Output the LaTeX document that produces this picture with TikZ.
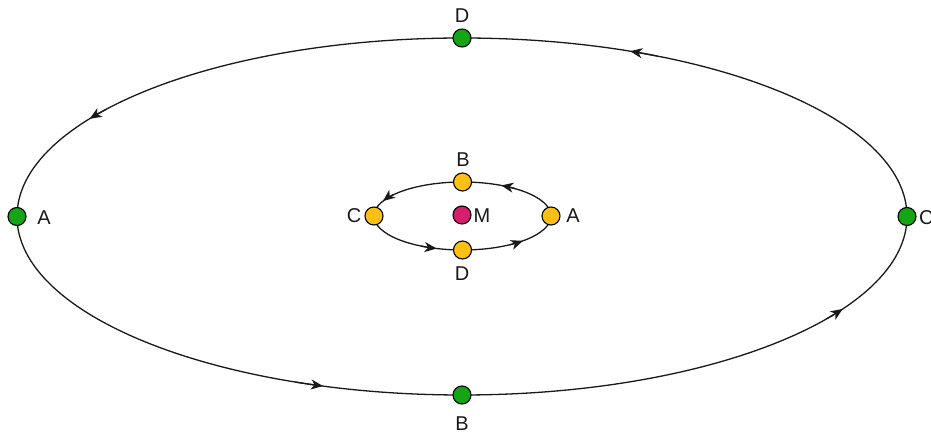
\documentclass[tikz,border=0pt]{standalone}
\usepackage{fontspec}
\setmainfont{Liberation Sans}
\usetikzlibrary{arrows.meta}
\definecolor{dotgreen}{RGB}{20,165,20}
\definecolor{dotyellow}{RGB}{255,192,20}
\definecolor{dotmag}{RGB}{215,30,110}
\tikzset{
  orbit/.style={line width=1.3pt,black!90},
  tip/.style={orbit,-{Stealth[length=12pt,width=10pt,inset=3.5pt]}},
  dot/.style={circle,draw=black,line width=1.1pt,minimum size=18pt,inner sep=0pt},
  lbl/.style={font=\fontsize{20}{22}\selectfont,inner sep=0pt,text=black!90}
}
\begin{document}
\begin{tikzpicture}[x=1pt,y=1pt]
\useasboundingbox (0,0) rectangle (931,433);
% outer orbit
\coordinate (oc) at (462,216.5);
\draw[orbit] (oc) ellipse [x radius=445pt,y radius=178.5pt];
\foreach \t in {146,67,251,328}{
  \draw[tip,shift={(oc)}] ({445*cos(\t-3)},{178.5*sin(\t-3)}) arc[start angle=\t-3,end angle=\t+0.8,x radius=445pt,y radius=178.5pt];
}
% inner orbit
\coordinate (ic) at (462.5,217);
\draw[orbit] (ic) ellipse [x radius=88.5pt,y radius=34pt];
\foreach \t/\d in {59/5,147/7,248/5,308/5}{
  \draw[tip,shift={(ic)}] ({88.5*cos(\t-6)},{34*sin(\t-6)}) arc[start angle=\t-6,end angle=\t+\d,x radius=88.5pt,y radius=34pt];
}
% outer dots
\node[dot,fill=dotgreen] (oD) at (462,395) {};
\node[dot,fill=dotgreen] (oB) at (462,38) {};
\node[dot,fill=dotgreen] (oA) at (17,216.5) {};
\node[dot,fill=dotgreen] (oC) at (907,216.5) {};
% inner dots
\node[dot,fill=dotyellow] (iB) at (462.5,251) {};
\node[dot,fill=dotyellow] (iD) at (462.5,183) {};
\node[dot,fill=dotyellow] (iC) at (374,217) {};
\node[dot,fill=dotyellow] (iA) at (551,217) {};
\node[dot,fill=dotmag] (m) at (462,218) {};
% labels
\node[lbl] (loD) at (462,417) {D};
\node[lbl] (loB) at (462,9) {B};
\node[lbl] (loA) at (44,215) {A};
\node[lbl,anchor=west] (loC) at (919,215) {C};
\node[lbl] (liB) at (463,273) {B};
\node[lbl] (liD) at (462,159) {D};
\node[lbl] (liC) at (354,217) {C};
\node[lbl] (liA) at (573,217) {A};
\node[lbl] (lm) at (482,217) {M};
\end{tikzpicture}
\end{document}
